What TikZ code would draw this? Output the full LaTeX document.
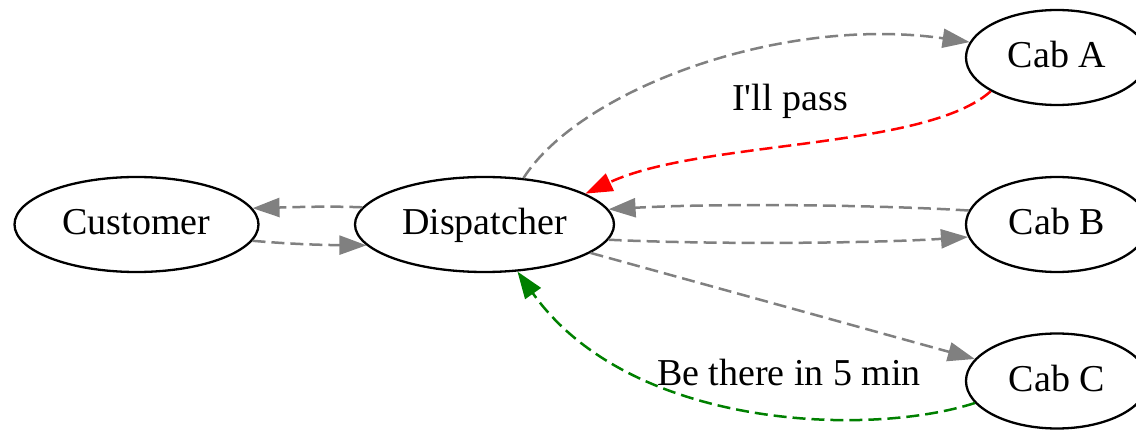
\documentclass[tikz,border=0pt]{standalone}
\usepackage{fontspec}
\setmainfont{Liberation Serif}[Ligatures=TeXOff]
\usetikzlibrary{shapes.geometric,arrows.meta}
\definecolor{edgegray}{HTML}{808080}
\definecolor{edgered}{HTML}{FF0000}
\definecolor{edgegreen}{HTML}{008000}
\begin{document}
\begin{tikzpicture}[x=1pt,y=-1pt,
  agent/.style={ellipse,draw=black,line width=2.3pt,inner sep=0pt,
    minimum height=95pt,text height=28pt,text depth=7pt,
    font=\fontsize{38}{40}\selectfont},
  msg/.style={line width=2.5pt,dash pattern=on 13pt off 6pt,
    -{Triangle[length=27pt,width=19pt]}},
  lbl/.style={font=\fontsize{38}{40}\selectfont,inner sep=0pt,
    text height=28pt,text depth=7pt}]
\useasboundingbox (0,0) rectangle (1136,430);
\begin{scope}
\clip (0,0) rectangle (1136,430);
% parties
\node[agent,minimum width=244pt] (cust) at (136.5,224.5) {Customer};
\node[agent,minimum width=259pt] (disp) at (484.5,224.5) {Dispatcher};
\node[agent,minimum width=182pt] (caba) at (1057,57.5) {Cab A};
\node[agent,minimum width=182pt] (cabb) at (1057,224.5) {Cab B};
\node[agent,minimum width=182pt] (cabc) at (1057,381) {Cab C};
\end{scope}
% customer <-> dispatcher
\draw[msg,edgegray] (disp.172) .. controls (330,206) and (300,207) .. (cust.8.3);
\draw[msg,edgegray] (cust.-8.6) .. controls (290,244) and (320,245) .. (disp.190);
% dispatcher broadcasts
\draw[msg,edgegray] (disp.50) .. controls (580,90) and (780,15) .. (caba.170.7);
\draw[msg,edgegray] (disp.-7.2) .. controls (720,245) and (880,243) .. (cabb.188.8);
\draw[msg,edgegray] (disp.-15.3) -- (cabc.165.3);
% replies
\draw[msg,edgered] (caba.207.3) .. controls (925,150) and (700,140) .. (disp.17.9);
\draw[msg,edgegray] (cabb.171.8) .. controls (880,205) and (720,203) .. (disp.7.2);
\draw[msg,edgegreen] (cabc.195) .. controls (870,437) and (630,430) .. (disp.-55.3);
% reply labels
\node[lbl] (passlbl) at (790,100) {I'll pass};
\node[lbl] (therelbl) at (789,375) {Be there in 5 min};
\end{tikzpicture}
\end{document}
